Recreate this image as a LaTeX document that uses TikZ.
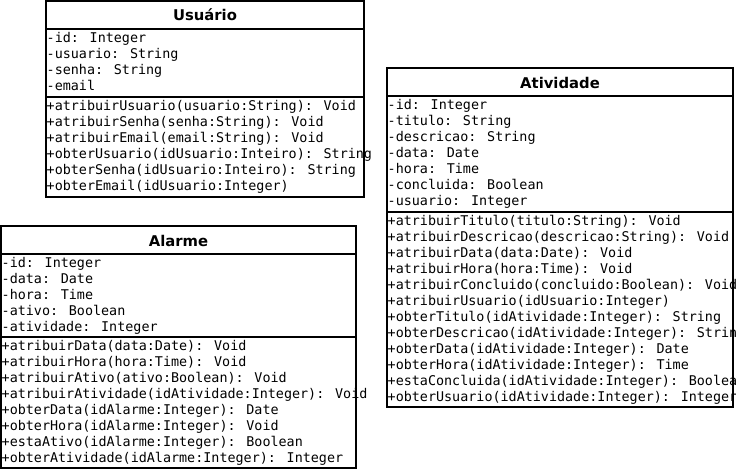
\documentclass[tikz,border=0pt]{standalone}
\usepackage{fontspec}
\newfontfamily\umlmono[WordSpace={1,0,0}]{DejaVu Sans Mono}
\newfontfamily\umltitlefont{DejaVu Sans}
\begin{document}
\begin{tikzpicture}[x=1pt,y=-1pt,
  member/.style={anchor=base west, inner sep=0pt, font=\umlmono\fontsize{13.4}{16}\selectfont},
  classtitle/.style={anchor=base, inner sep=0pt, font=\umltitlefont\bfseries\fontsize{14.8}{18}\selectfont},
  umlbox/.style={draw=black, line width=2pt},
  umlsep/.style={draw=black, line width=2pt}]
\useasboundingbox (0,0) rectangle (736,471);
\fill[white] (0,0) rectangle (736,471);

% ---------- Usuario ----------
\node[classtitle] (utitle) at (205,20.5) {Usuário};
\foreach \t [count=\i from 0] in {-id: Integer,-usuario: String,-senha: String,-email}
  \node[member] (ua\i) at (46.5,42.5+16*\i) {\t};
\foreach \t [count=\i from 0] in {+atribuirUsuario(usuario:String): Void,+atribuirSenha(senha:String): Void,+atribuirEmail(email:String): Void,+obterUsuario(idUsuario:Inteiro): String,+obterSenha(idUsuario:Inteiro): String,+obterEmail(idUsuario:Integer)}
  \node[member] (um\i) at (46.5,110.5+16*\i) {\t};
\draw[umlbox] (46,1) rectangle (364,197);
\draw[umlsep] (46,28.5) -- (364,28.5);
\draw[umlsep] (46,96.5) -- (364,96.5);

% ---------- Atividade ----------
\node[classtitle] (atitle) at (560,88) {Atividade};
\foreach \t [count=\i from 0] in {-id: Integer,-titulo: String,-descricao: String,-data: Date,-hora: Time,-concluida: Boolean,-usuario: Integer}
  \node[member] (aa\i) at (387.5,109.5+16*\i) {\t};
\foreach \t [count=\i from 0] in {+atribuirTitulo(titulo:String): Void,+atribuirDescricao(descricao:String): Void,+atribuirData(data:Date): Void,+atribuirHora(hora:Time): Void,+atribuirConcluido(concluido:Boolean): Void,+atribuirUsuario(idUsuario:Integer),+obterTitulo(idAtividade:Integer): String,+obterDescricao(idAtividade:Integer): String,+obterData(idAtividade:Integer): Date,+obterHora(idAtividade:Integer): Time,+estaConcluida(idAtividade:Integer): Boolean,+obterUsuario(idAtividade:Integer): Integer}
  \node[member] (am\i) at (387.5,225.5+16*\i) {\t};
\draw[umlbox] (387,68) rectangle (733,407);
\draw[umlsep] (387,96) -- (733,96);
\draw[umlsep] (387,212) -- (733,212);

% ---------- Alarme ----------
\node[classtitle] (ltitle) at (178.5,246) {Alarme};
\foreach \t [count=\i from 0] in {-id: Integer,-data: Date,-hora: Time,-ativo: Boolean,-atividade: Integer}
  \node[member] (la\i) at (1.5,267.5+16*\i) {\t};
\foreach \t [count=\i from 0] in {+atribuirData(data:Date): Void,+atribuirHora(hora:Time): Void,+atribuirAtivo(ativo:Boolean): Void,+atribuirAtividade(idAtividade:Integer): Void,+obterData(idAlarme:Integer): Date,+obterHora(idAlarme:Integer): Void,+estaAtivo(idAlarme:Integer): Boolean,+obterAtividade(idAlarme:Integer): Integer}
  \node[member] (lm\i) at (1.5,350.5+16*\i) {\t};
\draw[umlbox] (1,226) rectangle (356,468);
\draw[umlsep] (1,254) -- (356,254);
\draw[umlsep] (1,337) -- (356,337);
\end{tikzpicture}
\end{document}
